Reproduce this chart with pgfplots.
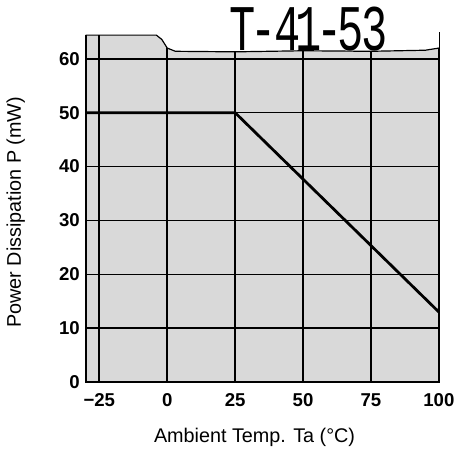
\documentclass[border=0pt]{standalone}
\usepackage{pgfplots}
\pgfplotsset{compat=1.18}
\usepackage{graphicx}
\usepackage{fontspec}
\setmainfont{Liberation Sans}
\newfontfamily\handfont{Liberation Mono}
\begin{document}
\begin{tikzpicture}
\begin{axis}[
  width=178.5pt, height=177pt, scale only axis,
  xmin=-30, xmax=100, ymin=0, ymax=65,
  xtick={-25,0,25,50,75,100},
  xticklabels={\textbf{−25},\textbf{0},\textbf{25},\textbf{50},\textbf{75},\textbf{100}},
  ytick={0,10,20,30,40,50,60},
  yticklabels={\textbf{0},\textbf{10},\textbf{20},\textbf{30},\textbf{40},\textbf{50},\textbf{60}},
  tick style={draw=none},
  ticklabel style={font=\fontsize{9.4}{10}\selectfont},
  xticklabel style={anchor=north, text height=1.45ex, text depth=0pt, yshift=-1pt},
  yticklabel style={xshift=0.5pt},
  grid=major,
  grid style={black, line width=0.75pt},
  axis line style={draw=none},
  clip=false,
  xlabel={Ambient Temp. Ta (°C)},
  ylabel={Power Dissipation P (mW)},
  xlabel style={font=\fontsize{7.3}{8}\selectfont},
  ylabel style={font=\fontsize{6.4}{8}\selectfont},
  every axis x label/.style={at={(axis description cs:0.478,-0.158)}, anchor=center},
  every axis y label/.style={at={(axis description cs:-0.198,0.485)}, rotate=90, anchor=center},
  axis background/.style={fill=black!15},
]
% white paper above the torn top edge
\addplot[fill=white, draw=none] coordinates {
  (-30,64.4) (-4,64.4) (-2,63.6) (0,62) (3,61.4) (25,61.3) (50,61.5) (75,61.4) (95,61.6) (100,62)
  (100,65.5) (-30,65.5)} -- cycle;
% frame: torn top edge
\addplot[black, line width=0.6pt] coordinates {
  (-30,64.4) (-4,64.4) (-2,63.6) (0,62) (3,61.4) (25,61.3) (50,61.5) (75,61.4) (95,61.6) (100,62)};
% frame sides and bottom
\addplot[black, line width=1.1pt] coordinates {(-30,64.4) (-30,0) (100,0) (100,62)};
% thicker vertical at -25
\addplot[black, line width=1.1pt] coordinates {(-25,0) (-25,64.4)};
% derating curve
\addplot[black, line width=1.4pt] coordinates {(-30,50) (25,50) (100,13)};
% handwritten annotation
\node at (axis cs:52,65.6) {\resizebox{80pt}{22pt}{\handfont T\kern-0.12em-\kern-0.05em4\kern-0.12em1\kern-0.12em-\kern-0.12em5\kern-0.05em3}};
\end{axis}
\end{tikzpicture}
\end{document}
